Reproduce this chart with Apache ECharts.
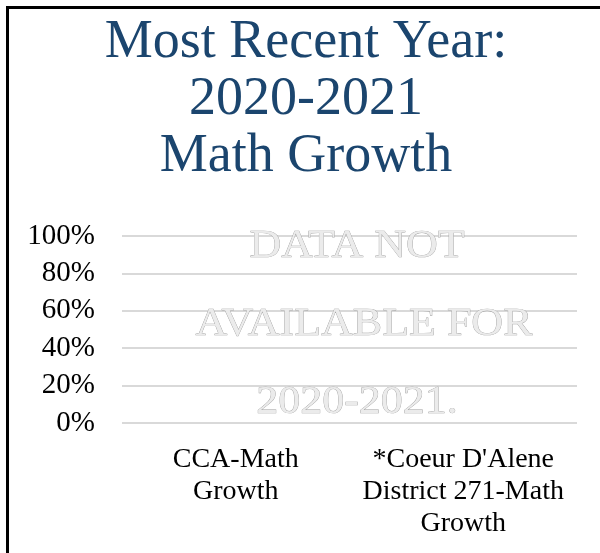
<!DOCTYPE html>
<html>
<head>
<meta charset="utf-8">
<title>Math Growth</title>
<script src="https://cdn.jsdelivr.net/npm/echarts@6/dist/echarts.min.js"></script>
<style>
  html, body { margin: 0; padding: 0; background: #fff; }
  #main { width: 600px; height: 553px; }
</style>
</head>
<body>
<div id="main"></div>
<script>
// 分类 (x 轴)
var categories = ['CCA-Math\nGrowth', "*Coeur D'Alene\nDistrict 271-Math\nGrowth"]
// 数据: 2020-2021 没有数据
var growthValues = [null, null]
// y 轴刻度
var yTicks = [0, 20, 40, 60, 80, 100]
// 标题
var titleLines = ['Most Recent Year:', '2020-2021', 'Math Growth']
// 覆盖文字
var noteLines = ['DATA NOT', 'AVAILABLE FOR', '2020-2021.']

var serif = '"Liberation Serif", "DejaVu Serif", serif'

var chart = echarts.init(document.getElementById('main'))

// 外框 (右边和下边在画面外)
var graphics = [
  {
    type: 'rect',
    shape: { x: 7.5, y: 7.5, width: 700, height: 700 },
    style: { fill: 'none', stroke: '#000', lineWidth: 3 },
    silent: true
  }
]
// 覆盖文字的位置
var noteX = [357, 364, 357]
var noteY = [246, 324, 402]
noteLines.forEach(function (txt, i) {
  graphics.push({
    type: 'text',
    x: noteX[i],
    y: noteY[i],
    scaleX: 1.1,
    z: 100,
    style: {
      text: txt,
      font: '40px ' + serif,
      fill: '#ebebeb',
      stroke: '#9c9c9c',
      lineWidth: 0.7,
      align: 'center',
      verticalAlign: 'middle',
      shadowColor: 'rgba(0,0,0,0.3)',
      shadowBlur: 1,
      shadowOffsetX: 1,
      shadowOffsetY: 1
    }
  })
})

var option = {
  backgroundColor: '#fff',
  title: {
    text: titleLines.join('\n'),
    left: 306,
    top: 14,
    padding: 0,
    textAlign: 'center',
    textStyle: {
      fontFamily: serif,
      fontWeight: 'normal',
      fontSize: 54,
      lineHeight: 57,
      color: '#1b456e'
    }
  },
  grid: {
    left: 122,
    right: 23,
    top: 236,
    bottom: 130
  },
  xAxis: {
    type: 'category',
    data: categories,
    axisLine: { show: false },
    axisTick: { show: false },
    axisLabel: {
      interval: 0,
      margin: 21,
      fontFamily: serif,
      fontSize: 28,
      lineHeight: 32,
      color: '#000'
    }
  },
  yAxis: {
    type: 'value',
    min: yTicks[0],
    max: yTicks[yTicks.length - 1],
    interval: 20,
    axisLine: { show: false },
    axisTick: { show: false },
    splitLine: { lineStyle: { color: '#d9d9d9', width: 2 } },
    axisLabel: {
      margin: 27,
      fontFamily: serif,
      fontSize: 29,
      color: '#000',
      formatter: '{value}%'
    }
  },
  series: [
    {
      name: 'Math Growth',
      type: 'bar',
      data: growthValues,
      itemStyle: { color: '#1b456e' }
    }
  ],
  graphic: graphics
}

chart.setOption(option)
</script>
</body>
</html>
